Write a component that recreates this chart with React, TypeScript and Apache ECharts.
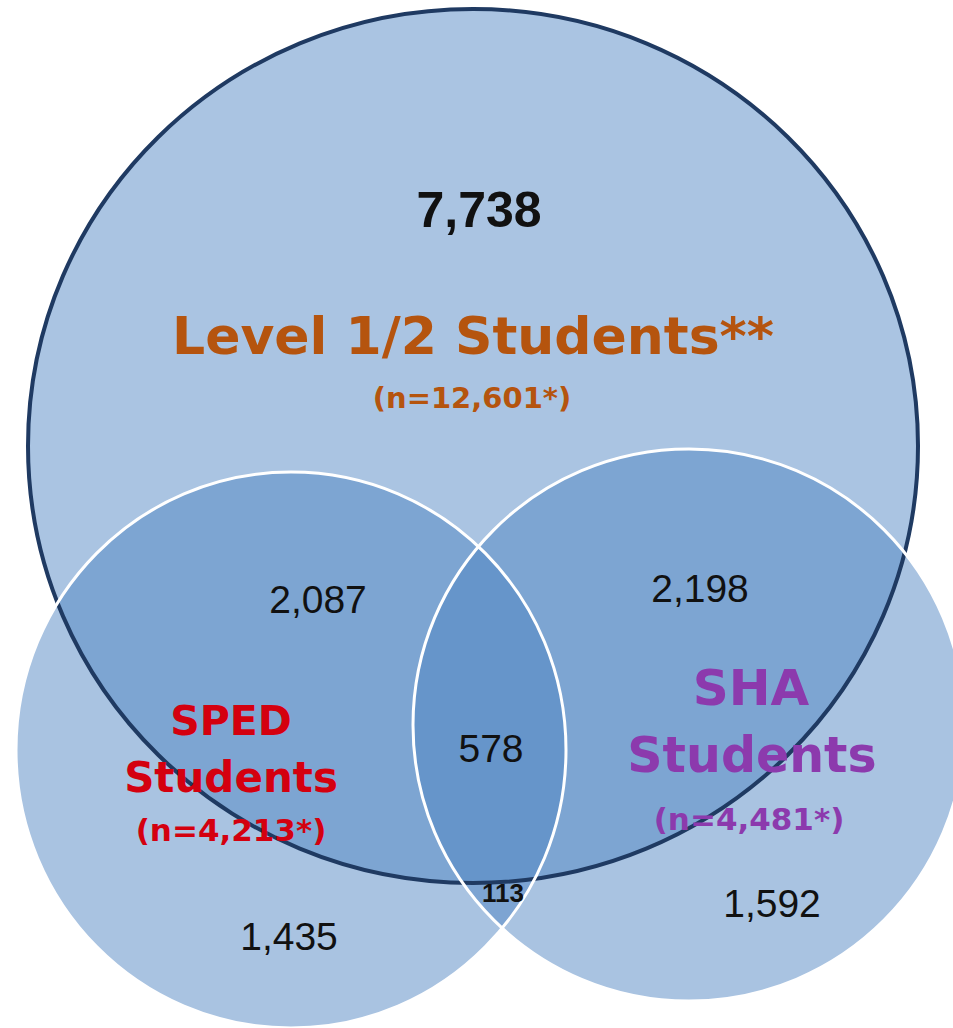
import React, { useEffect, useRef } from "react";
import * as echarts from "echarts";

// ---------- data ----------
const setNames = ["Level 1/2 Students**", "SPED Students", "SHA Students"];
const setTotals = [12601, 4213, 4481];
const regionNames = [
  "Level 1/2 only",
  "Level 1/2 & SPED",
  "Level 1/2 & SHA",
  "All three",
  "SPED & SHA only",
  "SPED only",
  "SHA only",
];
const regionCounts = [7738, 2087, 2198, 578, 113, 1435, 1592];

// ---------- layout (canvas space 953 x 1028) ----------
const W = 953;
const H = 1028;
const circleLayout = [
  { cx: 473, cy: 446, rx: 445, ry: 437 },
  { cx: 291, cy: 750, rx: 275, ry: 278 },
  { cx: 689, cy: 725, rx: 276, ry: 276 },
];
const circleStyle = [
  { fill: "#aac4e2", stroke: "#1f3a62", lineWidth: 4 },
  { fill: "rgba(79,132,194,0.49)", stroke: "#ffffff", lineWidth: 3 },
  { fill: "rgba(79,132,194,0.49)", stroke: "#ffffff", lineWidth: 3 },
];
const regionLabelLayout = [
  { x: 479, y: 210, size: 50, weight: "bold" },
  { x: 318, y: 599, size: 39, weight: "normal" },
  { x: 700, y: 588, size: 39, weight: "normal" },
  { x: 491, y: 748, size: 39, weight: "normal" },
  { x: 503, y: 893, size: 26, weight: "bold" },
  { x: 289, y: 936, size: 39, weight: "normal" },
  { x: 772, y: 903, size: 39, weight: "normal" },
];
const setLabelLayout = [
  { color: "#b5540e", split: false, lines: [{ x: 473, y: 336, size: 52 }], total: { x: 472, y: 398, size: 29 } },
  {
    color: "#d4000f",
    split: true,
    lines: [
      { x: 231, y: 721, size: 41 },
      { x: 231, y: 777, size: 42 },
    ],
    total: { x: 231, y: 830, size: 31 },
  },
  {
    color: "#8c3aad",
    split: true,
    lines: [
      { x: 751, y: 688, size: 50 },
      { x: 752, y: 755, size: 49 },
    ],
    total: { x: 749, y: 819, size: 31 },
  },
];

type LabelItem = {
  x: number;
  y: number;
  text: string;
  size: number;
  weight: string;
  color: string;
  family: string;
};

function buildLabels(): LabelItem[] {
  const out: LabelItem[] = [];
  regionCounts.forEach((v, i) => {
    const l = regionLabelLayout[i];
    out.push({
      x: l.x,
      y: l.y,
      text: v.toLocaleString("en-US"),
      size: l.size,
      weight: l.weight,
      color: "#111111",
      family: "'Liberation Sans', Arial, sans-serif",
    });
  });
  setNames.forEach((name, i) => {
    const l = setLabelLayout[i];
    const parts = l.split ? name.split(" ") : [name];
    parts.forEach((p, j) => {
      const pos = l.lines[j];
      out.push({
        x: pos.x,
        y: pos.y,
        text: p,
        size: pos.size,
        weight: "bold",
        color: l.color,
        family: "'DejaVu Sans', sans-serif",
      });
    });
    out.push({
      x: l.total.x,
      y: l.total.y,
      text: "(n=" + setTotals[i].toLocaleString("en-US") + "*)",
      size: l.total.size,
      weight: "bold",
      color: l.color,
      family: "'DejaVu Sans', sans-serif",
    });
  });
  return out;
}

export default function App() {
  const ref = useRef<HTMLDivElement>(null);

  useEffect(() => {
    document.body.style.margin = "0";
    if (!ref.current) return;
    const chart = echarts.init(ref.current, undefined, { renderer: "svg" });
    const labels = buildLabels();
    const circleData = circleLayout.map((c, i) => ({
      name: setNames[i],
      value: [c.cx, c.cy, c.rx, c.ry],
    }));

    const ellipse = (api: any) => {
      const p = api.coord([api.value(0), api.value(1)]);
      const s = api.size([api.value(2), api.value(3)]);
      return { cx: p[0], cy: p[1], rx: s[0], ry: s[1] };
    };

    chart.setOption({
      animation: false,
      backgroundColor: "#ffffff",
      grid: { left: 0, right: 0, top: 0, bottom: 0, containLabel: false },
      xAxis: { type: "value", min: 0, max: W, show: false },
      yAxis: { type: "value", min: 0, max: H, inverse: true, show: false },
      series: [
        {
          type: "custom",
          name: "fills",
          clip: false,
          data: circleData,
          renderItem: (params: any, api: any) => ({
            type: "ellipse",
            shape: ellipse(api),
            style: { fill: circleStyle[params.dataIndex].fill, stroke: "none" },
            silent: true,
          }),
        },
        {
          type: "custom",
          name: "outlines",
          clip: false,
          data: circleData,
          renderItem: (params: any, api: any) => ({
            type: "ellipse",
            shape: ellipse(api),
            style: {
              fill: "none",
              stroke: circleStyle[params.dataIndex].stroke,
              lineWidth: circleStyle[params.dataIndex].lineWidth,
            },
            silent: true,
          }),
        },
        {
          type: "custom",
          name: "labels",
          clip: false,
          data: labels.map((l) => ({ value: [l.x, l.y] })),
          renderItem: (params: any, api: any) => {
            const l = labels[params.dataIndex];
            const p = api.coord([api.value(0), api.value(1)]);
            return {
              type: "text",
              x: p[0],
              y: p[1],
              style: {
                text: l.text,
                fill: l.color,
                fontSize: l.size,
                fontWeight: l.weight,
                fontFamily: l.family,
                align: "center",
                verticalAlign: "middle",
              },
              silent: true,
            };
          },
        },
      ],
    });
    return () => chart.dispose();
  }, []);

  return <div ref={ref} style={{ width: W, height: H }} />;
}
